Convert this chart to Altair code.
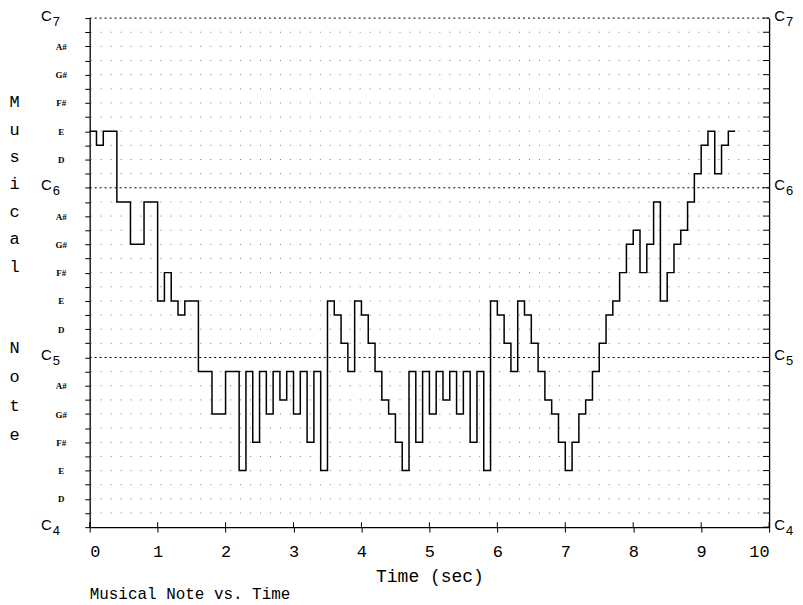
import altair as alt
import pandas as pd

note_values = [28, 27, 28, 28, 23, 23, 20, 20, 23, 23,
               16, 18, 16, 15, 16, 16, 11, 11, 8, 8,
               11, 11, 4, 11, 6, 11, 8, 11, 9, 11,
               8, 11, 6, 11, 4, 16, 15, 13, 11, 16,
               15, 13, 11, 9, 8, 6, 4, 11, 6, 11,
               8, 11, 9, 11, 8, 11, 6, 11, 4, 16,
               15, 13, 11, 16, 15, 13, 11, 9, 8, 6,
               4, 6, 8, 9, 11, 13, 15, 16, 18, 20,
               21, 18, 20, 23, 16, 18, 20, 21, 23, 25,
               27, 28, 25, 27, 28]
sample_step = 0.1

time_ticks = [0, 1, 2, 3, 4, 5, 6, 7, 8, 9, 10]
semitones = list(range(37))
c_notes = [0, 12, 24, 36]
small_label_notes = [2, 4, 6, 8, 10, 14, 16, 18, 20, 22, 26, 28, 30, 32, 34]
small_label_names = ["", "", "D", "", "E", "", "F#", "", "G#", "", "A#", ""]
grid_rows = [n for n in semitones if n not in c_notes]
y_title_word1 = ["M", "u", "s", "i", "c", "a", "l"]
y_title_word2 = ["N", "o", "t", "e"]

times = [round(i * sample_step, 1) for i in range(len(note_values) + 1)]
line_df = pd.DataFrame({"t": times, "note": note_values + [note_values[-1]]})
rows_df = pd.DataFrame({"n": grid_rows})
c_df = pd.DataFrame({"n": [12, 24, 36]})
cnote_df = pd.DataFrame({"n": c_notes})
rt_df = pd.DataFrame({"n": semitones, "x1": [9.91] * len(semitones), "x2": [10.0] * len(semitones)})
bt_df = pd.DataFrame({"t": time_ticks, "y1": [0.0] * len(time_ticks), "y2": [0.35] * len(time_ticks)})

xs = alt.Scale(domain=[0, 10], nice=False, zero=False)
ys = alt.Scale(domain=[0, 36], nice=False, zero=False)

MONO = "Liberation Mono"
SANS = "Liberation Sans"

tick_axis = alt.Axis(orient="left", values=semitones, labels=False, grid=False,
                     ticks=True, tickSize=5, tickColor="black", tickWidth=1,
                     domain=True, domainColor="black", domainWidth=1.3,
                     title=y_title_word1,
                     titleAngle=0, titleX=-76, titleY=84, titleAlign="center",
                     titleBaseline="middle", titleLineHeight=27.5, titleFont=MONO,
                     titleFontSize=17, titleFontWeight="normal", titleColor="black")

names_js = "[" + ",".join("'" + s + "'" for s in small_label_names) + "]"
small_axis = alt.Axis(orient="left", values=small_label_notes, grid=False, ticks=False,
                      tickSize=0, domain=False, labelPadding=29, labelAlign="center",
                      labelBaseline="middle",
                      labelExpr=names_js + "[datum.value % 12]",
                      labelFont="Liberation Serif", labelFontWeight="bold",
                      labelFontSize=9, labelColor="black", title=None)

c_left_axis = alt.Axis(orient="left", values=c_notes, grid=False, ticks=False, tickSize=0,
                       domain=False, labelExpr="'C'", labelAlign="center",
                       labelBaseline="alphabetic", labelPadding=44, labelOffset=2,
                       labelFont=SANS, labelFontSize=15, labelColor="black", title=None)

d_left_axis = alt.Axis(orient="left", values=c_notes, grid=False, ticks=False, tickSize=0,
                       domain=False, labelExpr="floor(datum.value / 12) + 4",
                       labelAlign="center", labelBaseline="middle", labelPadding=34,
                       labelOffset=3, labelFont=SANS, labelFontSize=13,
                       labelColor="black",
                       title=y_title_word2,
                       titleAngle=0, titleX=-76, titleY=331, titleAlign="center",
                       titleBaseline="middle", titleLineHeight=29, titleFont=MONO,
                       titleFontSize=17, titleFontWeight="normal", titleColor="black")

c_right_axis = alt.Axis(orient="right", values=c_notes, grid=False, ticks=False, tickSize=0,
                        domain=True, domainColor="black", domainWidth=1.3,
                        labelExpr="'C'", labelAlign="center", labelBaseline="alphabetic",
                        labelPadding=10, labelOffset=2, labelFont=SANS, labelFontSize=15,
                        labelColor="black", title=None)

d_right_axis = alt.Axis(orient="right", values=c_notes, grid=False, ticks=False, tickSize=0,
                        domain=False, labelExpr="floor(datum.value / 12) + 4",
                        labelAlign="center", labelBaseline="middle", labelPadding=20,
                        labelOffset=3, labelFont=SANS, labelFontSize=13,
                        labelColor="black", title=None)

x_axis = alt.Axis(orient="bottom", values=time_ticks, grid=False, tickSize=5,
                  tickColor="black", domainColor="black", domainWidth=1.3,
                  labelFont=MONO, labelFontSize=17, labelColor="black", labelPadding=11,
                  title="Time (sec)", titleFont=MONO, titleFontSize=18,
                  titleFontWeight="normal", titleColor="black", titlePadding=9)

line = alt.Chart(line_df).mark_line(interpolate="step-after", color="black", strokeWidth=1.5).encode(
    x=alt.X("t:Q", scale=xs, axis=x_axis),
    y=alt.Y("note:Q", scale=ys, axis=None))

rows = alt.Chart(rows_df).mark_rule(color="#777777", strokeWidth=1, strokeDash=[1, 9]).encode(
    y=alt.Y("n:Q", scale=ys, axis=tick_axis))

cgrid = alt.Chart(c_df).mark_rule(color="black", strokeWidth=1, strokeDash=[2, 3]).encode(
    y=alt.Y("n:Q", scale=ys, axis=small_axis))

rticks = alt.Chart(rt_df).mark_rule(color="black", strokeWidth=1).encode(
    x=alt.X("x1:Q", scale=xs, axis=x_axis), x2="x2:Q",
    y=alt.Y("n:Q", scale=ys, axis=c_right_axis))

bticks = alt.Chart(bt_df).mark_rule(color="black", strokeWidth=1).encode(
    x=alt.X("t:Q", scale=xs, axis=x_axis),
    y=alt.Y("y1:Q", scale=ys, axis=c_left_axis), y2="y2:Q")

dleft = alt.Chart(cnote_df).mark_point(opacity=0).encode(
    y=alt.Y("n:Q", scale=ys, axis=d_left_axis))

dright = alt.Chart(cnote_df).mark_point(opacity=0).encode(
    y=alt.Y("n:Q", scale=ys, axis=d_right_axis))

chart = alt.layer(rows, cgrid, rticks, bticks, dleft, dright, line).resolve_axis(
    y="independent"
).properties(
    width=682, height=511,
    autosize=alt.AutoSizeParams(type="none"),
    padding={"left": 82, "top": 9, "right": 26, "bottom": 76},
    background="white",
    title=alt.TitleParams("Musical Note vs. Time", orient="bottom", anchor="start",
                          frame="group", font=MONO, fontSize=16, fontWeight="normal",
                          color="black", offset=0),
).configure_view(strokeWidth=0)

chart.save("out.html", embed_options={"renderer": "svg", "actions": False})
